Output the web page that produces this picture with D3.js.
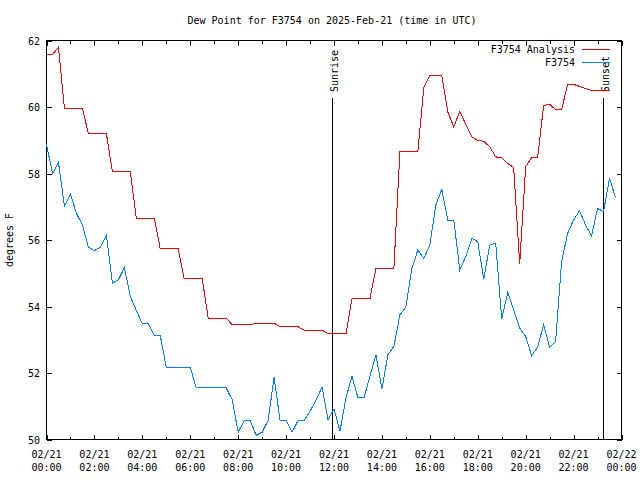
<!DOCTYPE html>
<html>
<head>
<meta charset="utf-8">
<script src="https://cdn.jsdelivr.net/npm/d3@7"></script>
<style>
  html, body { margin: 0; padding: 0; background: #fff; }
  svg text { font-family: "DejaVu Sans Mono", "Liberation Mono", monospace; font-size: 10px; fill: #000; }
</style>
</head>
<body>
<svg id="chart" width="640" height="480"></svg>
<script>
// ---- Data ----
const title = "Dew Point for F3754 on 2025-Feb-21 (time in UTC)";
const yLabel = "degrees F";
const seriesNames = ["F3754 Analysis", "F3754"];
const seriesColors = ["#ff0000", "#0080ff"];

// Analysis (red): hours UTC, values degF
const analysisHours = [0, 0.25, 0.5, 0.75, 1.5, 1.75, 2.5, 2.75, 3.5, 3.75, 4.5, 4.75, 5.5, 5.75, 6.5, 6.75,
  7.5, 7.75, 8.5, 8.75, 9.5, 9.75, 10.5, 10.75, 11.5, 11.75, 12.5, 12.75, 13.5, 13.75, 14.5, 14.75,
  15.5, 15.75, 16.0, 16.5, 16.75, 17.0, 17.25, 17.5, 17.75, 18.0, 18.25, 18.5, 18.75, 19.0, 19.25, 19.5,
  19.75, 20.0, 20.25, 20.5, 20.75, 21.0, 21.25, 21.5, 21.75, 22.0, 22.25, 22.5, 22.75, 23.0, 23.25, 23.5];
const analysisValues = [61.58, 61.58, 61.8, 59.95, 59.95, 59.2, 59.2, 58.05, 58.05, 56.65, 56.65, 55.73, 55.73, 54.83, 54.83, 53.65,
  53.65, 53.45, 53.45, 53.5, 53.5, 53.39, 53.39, 53.29, 53.29, 53.18, 53.18, 54.23, 54.23, 55.15, 55.15, 58.65,
  58.65, 60.6, 60.95, 60.95, 59.85, 59.4, 59.87, 59.48, 59.1, 59.0, 58.97, 58.8, 58.5, 58.47, 58.3, 58.18,
  55.28, 58.2, 58.48, 58.48, 60.05, 60.08, 59.92, 59.92, 60.68, 60.68, 60.62, 60.55, 60.5, 60.5, 60.5, 60.5];

// Observations (blue)
const obsHours = [0, 0.25, 0.5, 0.75, 1.0, 1.25, 1.5, 1.75, 2.0, 2.25, 2.5, 2.75, 3.0, 3.25, 3.5, 3.75,
  4.0, 4.25, 4.5, 4.75, 5.0, 5.25, 5.5, 5.75, 6.0, 6.25, 6.5, 6.75, 7.0, 7.25, 7.5, 7.75,
  8.0, 8.25, 8.5, 8.75, 9.0, 9.25, 9.5, 9.75, 10.0, 10.25, 10.5, 10.75, 11.0, 11.25, 11.5, 11.75,
  12.0, 12.25, 12.5, 12.75, 13.0, 13.25, 13.5, 13.75, 14.0, 14.25, 14.5, 14.75, 15.0, 15.25, 15.5, 15.75,
  16.0, 16.25, 16.5, 16.75, 17.0, 17.25, 17.5, 17.75, 18.0, 18.25, 18.5, 18.75, 19.0, 19.25, 19.5, 19.75,
  20.0, 20.25, 20.5, 20.75, 21.0, 21.25, 21.5, 21.75, 22.0, 22.25, 22.5, 22.75, 23.0, 23.25, 23.5, 23.75];
const obsValues = [58.88, 58.0, 58.33, 57.02, 57.38, 56.8, 56.45, 55.78, 55.68, 55.78, 56.14, 54.7, 54.8, 55.17, 54.3, 53.88,
  53.48, 53.48, 53.12, 53.12, 52.17, 52.17, 52.17, 52.17, 52.17, 51.55, 51.55, 51.55, 51.55, 51.55, 51.55, 51.2,
  50.22, 50.57, 50.57, 50.13, 50.22, 50.57, 51.88, 50.57, 50.57, 50.22, 50.57, 50.57, 50.85, 51.18, 51.58, 50.6,
  50.92, 50.25, 51.25, 51.9, 51.25, 51.25, 51.9, 52.55, 51.52, 52.55, 52.8, 53.75, 53.98, 55.15, 55.7, 55.45,
  55.85, 57.05, 57.52, 56.6, 56.6, 55.1, 55.5, 56.05, 55.95, 54.82, 55.85, 55.9, 53.62, 54.42, 53.9, 53.35,
  53.1, 52.52, 52.78, 53.45, 52.78, 52.95, 55.35, 56.2, 56.6, 56.88, 56.45, 56.12, 56.95, 56.85, 57.85, 57.28];

const sunEvents = ["Sunrise", "Sunset"];
const sunHours = [11.93, 23.24];

const xTickHours = [0, 2, 4, 6, 8, 10, 12, 14, 16, 18, 20, 22, 24];
const xTickDates = ["02/21", "02/21", "02/21", "02/21", "02/21", "02/21", "02/21", "02/21", "02/21", "02/21", "02/21", "02/21", "02/22"];
const xTickTimes = ["00:00", "02:00", "04:00", "06:00", "08:00", "10:00", "12:00", "14:00", "16:00", "18:00", "20:00", "22:00", "00:00"];
const xMinorHours = [1, 3, 5, 7, 9, 11, 13, 15, 17, 19, 21, 23];
const yTicks = [50, 52, 54, 56, 58, 60, 62];

// ---- Layout ----
const padL = 46.5, padR = 621.5, padT = 40.5, padB = 439.5;
const svg = d3.select("#chart");
const x = d3.scaleLinear().domain([0, 24]).range([padL, padR]);
const y = d3.scaleLinear().domain([50, 62]).range([padB, padT]);

// Title
svg.append("text").attr("x", 332).attr("y", 24).attr("text-anchor", "middle").text(title);

// Y label
svg.append("text").attr("transform", "translate(13,240) rotate(-90)").attr("text-anchor", "middle").text(yLabel);

// Frame
svg.append("rect").attr("x", padL).attr("y", padT).attr("width", padR - padL).attr("height", padB - padT)
  .attr("fill", "none").attr("stroke", "#000").attr("shape-rendering", "crispEdges");

const axBottom = d3.axisBottom(x).tickValues(xTickHours).tickSize(-5).tickFormat("");
const axTop = d3.axisTop(x).tickValues(xTickHours).tickSize(-5).tickFormat("");
const axBottomMinor = d3.axisBottom(x).tickValues(xMinorHours).tickSize(-3).tickFormat("");
const axTopMinor = d3.axisTop(x).tickValues(xMinorHours).tickSize(-3).tickFormat("");
const axLeft = d3.axisLeft(y).tickValues(yTicks).tickSize(-5).tickFormat("");
const axRight = d3.axisRight(y).tickValues(yTicks).tickSize(-5).tickFormat("");

function drawAxis(gen, tx, ty) {
  const g = svg.append("g").attr("transform", `translate(${tx},${ty})`).call(gen);
  g.select(".domain").remove();
  g.selectAll("line").attr("stroke", "#000").attr("shape-rendering", "crispEdges");
  return g;
}
drawAxis(axBottom, 0, padB);
drawAxis(axBottomMinor, 0, padB);
drawAxis(axTop, 0, padT);
drawAxis(axTopMinor, 0, padT);
drawAxis(axLeft, padL, 0);
drawAxis(axRight, padR, 0);

// X tick labels (two lines)
const xl = svg.append("g");
xTickHours.forEach((h, i) => {
  xl.append("text").attr("x", x(h)).attr("y", 458).attr("text-anchor", "middle").text(xTickDates[i]);
  xl.append("text").attr("x", x(h)).attr("y", 471).attr("text-anchor", "middle").text(xTickTimes[i]);
});
// Y tick labels
yTicks.forEach(v => {
  svg.append("text").attr("x", 40).attr("y", y(v) + 4).attr("text-anchor", "end").text(v);
});

// Sun lines
sunHours.forEach((h, i) => {
  const xp = Math.round(x(h)) + 0.5;
  svg.append("line").attr("x1", xp).attr("x2", xp).attr("y1", 98).attr("y2", padB)
    .attr("stroke", "#000").attr("shape-rendering", "crispEdges");
  svg.append("text").attr("transform", `translate(${xp + 5},92) rotate(-90)`).attr("text-anchor", "start").text(sunEvents[i]);
});

// Series
const line = d3.line().x(d => x(d[0])).y(d => y(d[1]));
const analysisData = analysisHours.map((h, i) => [h, analysisValues[i]]);
const obsData = obsHours.map((h, i) => [h, obsValues[i]]);
svg.append("path").datum(analysisData).attr("d", line).attr("fill", "none")
  .attr("stroke", seriesColors[0]).attr("stroke-width", 1).attr("shape-rendering", "crispEdges");
svg.append("path").datum(obsData).attr("d", line).attr("fill", "none")
  .attr("stroke", seriesColors[1]).attr("stroke-width", 1).attr("shape-rendering", "crispEdges");

// Legend
seriesNames.forEach((name, i) => {
  const ly = 49.5 + i * 13;
  svg.append("text").attr("x", 575).attr("y", ly + 3.5).attr("text-anchor", "end").text(name);
  svg.append("line").attr("x1", 582).attr("x2", 610).attr("y1", ly).attr("y2", ly)
    .attr("stroke", seriesColors[i]).attr("shape-rendering", "crispEdges");
});
</script>
</body>
</html>
